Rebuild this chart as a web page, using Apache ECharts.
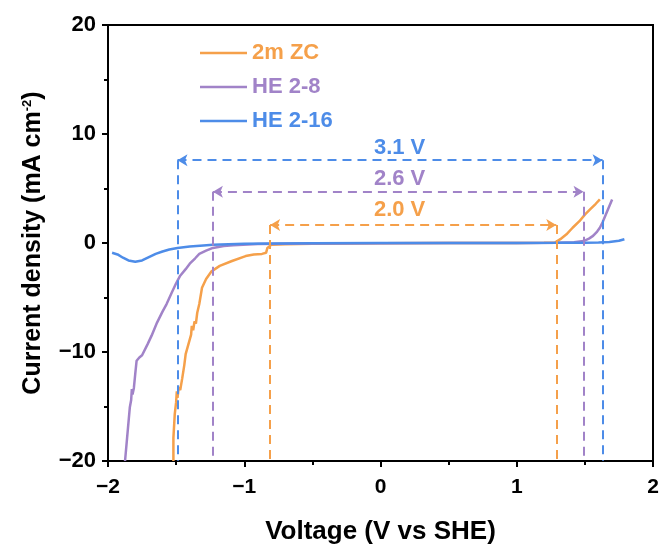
<!DOCTYPE html>
<html>
<head>
<meta charset="utf-8">
<script src="https://cdn.jsdelivr.net/npm/echarts@6/dist/echarts.min.js"></script>
<style>
  html, body { margin: 0; padding: 0; background: #fff; }
  #chart { width: 665px; height: 551px; }
</style>
</head>
<body>
<div id="chart"></div>
<script>
// series names and colours
var names = ['2m ZC', 'HE 2-8', 'HE 2-16'];
var colors = ['#F5A04A', '#A183C8', '#4D8CE8'];

// LSV curves [voltage, current density]
var zc = [[-1.52,-20],[-1.52,-17.9],[-1.51,-15.7],[-1.50,-14.6],[-1.495,-13.6],[-1.49,-14.2],[-1.48,-13.2],[-1.47,-13.5],
  [-1.455,-12.4],[-1.44,-11.2],[-1.43,-10.2],[-1.41,-9.3],[-1.39,-8.4],[-1.385,-7.6],[-1.375,-8.0],[-1.365,-7.2],
  [-1.355,-7.4],[-1.345,-6.4],[-1.33,-5.6],[-1.31,-4.1],[-1.28,-3.3],[-1.24,-2.6],[-1.18,-2.1],[-1.09,-1.65],
  [-0.99,-1.2],[-0.93,-1.05],[-0.87,-1.0],[-0.84,-0.9],[-0.83,-0.45],[-0.80,-0.15],[-0.7,-0.12],[-0.5,-0.06],
  [0,-0.02],[0.5,0],[1.0,0],[1.2,0.02],[1.28,0.05],[1.32,0.35],[1.365,0.8],[1.41,1.4],[1.46,2.0],[1.50,2.6],
  [1.54,3.1],[1.58,3.6],[1.61,4.0]];
var he8 = [[-1.875,-20],[-1.86,-17.9],[-1.84,-15.1],[-1.83,-14.4],[-1.825,-13.4],[-1.82,-13.9],[-1.81,-13.3],
  [-1.80,-12.0],[-1.79,-10.8],[-1.77,-10.5],[-1.75,-10.3],[-1.71,-9.3],[-1.68,-8.5],[-1.64,-7.3],[-1.60,-6.3],
  [-1.57,-5.6],[-1.53,-4.5],[-1.50,-3.7],[-1.47,-3.0],[-1.43,-2.4],[-1.40,-1.9],[-1.36,-1.4],[-1.33,-1.0],
  [-1.28,-0.7],[-1.23,-0.45],[-1.15,-0.28],[-1.08,-0.2],[-0.9,-0.1],[-0.5,-0.05],[0,-0.02],[0.5,0],[1.0,0],
  [1.3,0.02],[1.42,0.06],[1.49,0.18],[1.53,0.4],[1.56,0.65],[1.59,1.05],[1.61,1.4],[1.63,1.9],[1.65,2.5],
  [1.67,3.1],[1.68,3.4],[1.70,4.0]];
var he16 = [[-1.97,-0.9],[-1.93,-1.05],[-1.89,-1.35],[-1.85,-1.6],[-1.80,-1.72],[-1.75,-1.6],[-1.70,-1.3],
  [-1.65,-1.0],[-1.60,-0.78],[-1.55,-0.6],[-1.49,-0.45],[-1.40,-0.32],[-1.30,-0.22],[-1.23,-0.15],[-1.0,-0.07],
  [-0.8,-0.04],[-0.5,-0.02],[0,0],[0.5,0],[1.0,0.01],[1.3,0.02],[1.5,0.03],[1.6,0.05],[1.68,0.1],[1.75,0.2],
  [1.79,0.35]];

// stability window annotations (order: 2m ZC, HE 2-8, HE 2-16)
var winText = ['2.0 V', '2.6 V', '3.1 V'];
var winLeft = [-0.81, -1.23, -1.49];
var winRight = [1.29, 1.49, 1.63];
var winArrowY = [1.65, 4.7, 7.6];
var winTextX = [0.14, 0.14, 0.14];
var winTextY = [3.0, 5.9, 8.7];

var FONT = '"Liberation Sans", Arial, sans-serif';
var minus = function (v) { return String(v).replace('-', '\u2212'); };

function windowLines(i) {
  var ls = { color: colors[i], type: [9, 6], width: 2 };
  return {
    silent: true,
    symbol: ['none', 'none'],
    label: { show: false },
    lineStyle: ls,
    emphasis: { disabled: true },
    data: [
      [{ coord: [winLeft[i], winArrowY[i]], symbol: 'arrow', symbolSize: [9, 10] },
       { coord: [winRight[i], winArrowY[i]], symbol: 'arrow', symbolSize: [9, 10] }],
      [{ coord: [winLeft[i], winArrowY[i]] }, { coord: [winLeft[i], -20] }],
      [{ coord: [winRight[i], winArrowY[i]] }, { coord: [winRight[i], -20] }]
    ]
  };
}

var curves = [zc, he8, he16];
var series = curves.map(function (d, i) {
  return {
    name: names[i],
    type: 'line',
    data: d,
    showSymbol: false,
    lineStyle: { width: 2.5, color: colors[i] },
    itemStyle: { color: colors[i] },
    markLine: windowLines(i),
    z: 3
  };
});
series.push({
  type: 'scatter',
  symbolSize: 0,
  silent: true,
  itemStyle: { opacity: 1 },
  data: winText.map(function (t, i) {
    return {
      value: [winTextX[i], winTextY[i]],
      name: t,
      label: { color: colors[i] }
    };
  }),
  label: {
    show: true,
    position: 'inside',
    formatter: '{b}',
    fontFamily: FONT,
    fontWeight: 'bold',
    fontSize: 22
  }
});

var chart = echarts.init(document.getElementById('chart'));
chart.setOption({
  animation: false,
  backgroundColor: '#fff',
  textStyle: { fontFamily: FONT },
  grid: {
    left: 108, right: 12, top: 25, bottom: 90,
    show: true, borderColor: '#000', borderWidth: 2, backgroundColor: 'transparent'
  },
  legend: {
    orient: 'vertical',
    left: 195, top: 37,
    icon: 'rect',
    itemWidth: 47, itemHeight: 2.5,
    itemGap: 12,
    data: names.map(function (n, i) {
      return { name: n, textStyle: { color: colors[i] } };
    }),
    textStyle: { fontFamily: FONT, fontWeight: 'bold', fontSize: 22, lineHeight: 22 }
  },
  xAxis: {
    type: 'value', min: -2, max: 2, interval: 1,
    name: 'Voltage (V vs SHE)', nameLocation: 'middle', nameGap: 58,
    nameTextStyle: { fontFamily: FONT, fontWeight: 'bold', fontSize: 26, color: '#000' },
    axisLine: { onZero: false, lineStyle: { color: '#000', width: 2 } },
    axisTick: { inside: false, length: 6, lineStyle: { width: 2, color: '#000' } },
    minorTick: { show: true, splitNumber: 2, length: 4, lineStyle: { width: 2, color: '#000' } },
    splitLine: { show: false },
    axisLabel: { margin: 16, fontFamily: FONT, fontWeight: 'bold', fontSize: 21, color: '#000', formatter: minus }
  },
  yAxis: {
    type: 'value', min: -20, max: 20, interval: 10,
    name: 'Current density (mA cm{sup|-2})', nameLocation: 'middle', nameGap: 62,
    nameTextStyle: {
      fontFamily: FONT, fontWeight: 'bold', fontSize: 25, color: '#000',
      rich: { sup: { fontFamily: FONT, fontWeight: 'bold', fontSize: 13, color: '#000', verticalAlign: 'top', padding: [0, 0, 12, 0] } }
    },
    axisLine: { onZero: false, lineStyle: { color: '#000', width: 2 } },
    axisTick: { inside: false, length: 6, lineStyle: { width: 2, color: '#000' } },
    minorTick: { show: true, splitNumber: 2, length: 4, lineStyle: { width: 2, color: '#000' } },
    splitLine: { show: false },
    axisLabel: { margin: 12, fontFamily: FONT, fontWeight: 'bold', fontSize: 22, color: '#000', formatter: minus }
  },
  series: series
});
</script>
</body>
</html>
